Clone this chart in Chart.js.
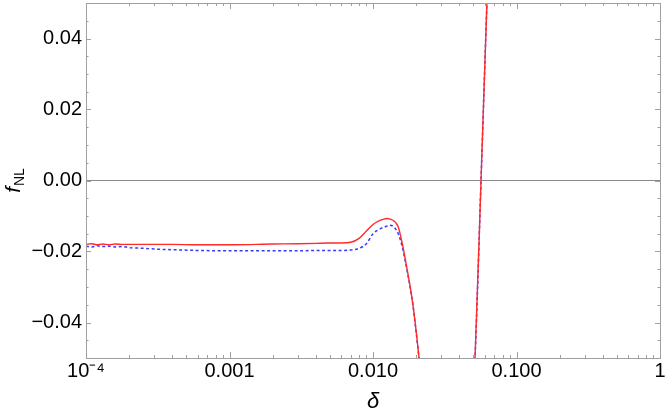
<!DOCTYPE html>
<html>
<head>
<meta charset="utf-8">
<script src="https://cdn.jsdelivr.net/npm/chart.js@4/dist/chart.umd.min.js"></script>
<style>
  html, body { margin: 0; padding: 0; background: #fff; }
  #wrap { width: 667px; height: 415px; }
</style>
</head>
<body>
<div id="wrap"><canvas id="c"></canvas></div>
<script>
// delta values and f_NL for the two curves
const delta = [1e-4, 1.1e-4, 1.2e-4, 1.3e-4, 1.45e-4, 1.6e-4, 1.8e-4, 2e-4, 2.5e-4, 3e-4, 4e-4, 6e-4,
  1e-3, 2e-3, 3e-3, 4e-3, 5e-3, 6e-3, 7e-3, 8e-3, 9e-3, 0.010, 0.011, 0.0126, 0.013, 0.014, 0.015,
  0.016, 0.017, 0.018, 0.019, 0.020, 0.021, 0.022, 0.026, 0.035, 0.045, 0.050, 0.0514, 0.0566, 0.0622, 0.066];
const fRed = [-0.0180, -0.0178, -0.0181, -0.0179, -0.0181, -0.0179, -0.0180, -0.0180, -0.0180, -0.0180, -0.0180, -0.0181,
  -0.0181, -0.0179, -0.0178, -0.0177, -0.0176, -0.0176, -0.0174, -0.0163, -0.0142, -0.0124, -0.0114, -0.0107, -0.0108, -0.0114, -0.0131,
  -0.0178, -0.0234, -0.0290, -0.0351, -0.0426, -0.0505, -0.058, -0.080, -0.120, -0.090, -0.058, -0.050, 0.000, 0.050, 0.080];
const fBlue = [-0.0185, -0.0187, -0.0184, -0.0186, -0.0185, -0.0187, -0.0186, -0.0189, -0.0191, -0.0193, -0.0195, -0.0197,
  -0.0198, -0.0198, -0.0198, -0.0197, -0.0197, -0.0197, -0.0196, -0.0191, -0.0178, -0.0150, -0.0138, -0.0128, -0.0126, -0.0131, -0.0150,
  -0.0187, -0.0239, -0.0293, -0.0353, -0.0428, -0.0507, -0.058, -0.080, -0.120, -0.090, -0.058, -0.050, 0.000, 0.050, 0.080];

const xTicks = [1e-4, 1e-3, 1e-2, 1e-1, 1];
const xTickLabels = ['10\u207B\u2074', '0.001', '0.010', '0.100', '1'];
const yTicks = [-0.04, -0.02, 0, 0.02, 0.04];
const yTickLabels = ['\u22120.04', '\u22120.02', '0.00', '0.02', '0.04'];

const FONT = "'Liberation Sans', Arial, sans-serif";

const frame = {
  id: 'frame',
  afterDraw(chart) {
    const { ctx, chartArea: a, scales: { x, y } } = chart;
    ctx.save();
    ctx.strokeStyle = '#a0a0a0';
    ctx.lineWidth = 1;
    ctx.beginPath();
    // inward ticks, x
    for (let d = -4; d <= 0; d++) {
      for (let k = 1; k <= 9; k++) {
        const v = k * Math.pow(10, d);
        if (v > 1) break;
        const px = Math.round(x.getPixelForValue(v)) + 0.5;
        const len = k === 1 ? 6 : 3;
        ctx.moveTo(px, a.bottom); ctx.lineTo(px, a.bottom - len);
        ctx.moveTo(px, a.top); ctx.lineTo(px, a.top + len);
      }
    }
    // inward ticks, y
    for (let i = -9; i <= 9; i++) {
      const v = i * 0.005;
      const py = Math.round(y.getPixelForValue(v)) + 0.5;
      const len = i % 4 === 0 ? 5 : 2.5;
      ctx.moveTo(a.left, py); ctx.lineTo(a.left + len, py);
      ctx.moveTo(a.right, py); ctx.lineTo(a.right - len, py);
    }
    ctx.stroke();
    ctx.strokeRect(Math.round(a.left) + 0.5, Math.round(a.top) + 0.5,
      Math.round(a.right - a.left), Math.round(a.bottom - a.top));

    // y axis title: f_NL
    ctx.fillStyle = '#000';
    ctx.translate(15, (a.top + a.bottom) / 2);
    ctx.rotate(-Math.PI / 2);
    ctx.font = 'italic 21px ' + FONT;
    const wf = ctx.measureText('f').width;
    ctx.font = '14px ' + FONT;
    const wn = ctx.measureText('NL').width;
    const start = -(wf + wn + 1) / 2;
    ctx.textBaseline = 'alphabetic';
    ctx.font = 'italic 21px ' + FONT;
    ctx.fillText('f', start, 5);
    ctx.font = '14px ' + FONT;
    ctx.fillText('NL', start + wf + 1, 9);
    ctx.restore();
  }
};

new Chart(document.getElementById('c'), {
  type: 'line',
  data: {
    datasets: [
      {
        label: 'red',
        data: delta.map((d, i) => ({ x: d, y: fRed[i] })),
        borderColor: '#ff2a2a',
        borderWidth: 1.4,
        pointRadius: 0,
        cubicInterpolationMode: 'monotone',
        fill: false
      },
      {
        label: 'blue',
        data: delta.map((d, i) => ({ x: d, y: fBlue[i] })),
        borderColor: '#3a3aff',
        borderWidth: 1.5,
        borderDash: [3, 2.5],
        pointRadius: 0,
        cubicInterpolationMode: 'monotone',
        fill: false
      }
    ]
  },
  options: {
    responsive: true,
    maintainAspectRatio: false,
    animation: false,
    layout: { padding: { left: 0, right: 7, top: 3, bottom: 0 } },
    plugins: { legend: { display: false }, tooltip: { enabled: false } },
    scales: {
      x: {
        type: 'logarithmic',
        min: 1e-4,
        max: 1,
        afterBuildTicks: s => { s.ticks = xTicks.map(v => ({ value: v })); },
        afterFit: s => { s.height = 57; s.paddingLeft = 0; s.paddingRight = 0; },
        ticks: {
          autoSkip: false,
          maxRotation: 0,
          padding: 1,
          color: '#000',
          font: { family: FONT, size: 20 },
          callback: (v, i) => xTickLabels[i]
        },
        grid: { display: false, drawTicks: false },
        border: { display: false },
        title: {
          display: true,
          text: 'δ',
          color: '#000',
          font: { family: FONT, size: 22, style: 'italic' },
          padding: { top: 10, bottom: 0 }
        }
      },
      y: {
        min: -0.05,
        max: 0.05,
        afterBuildTicks: s => { s.ticks = yTicks.map(v => ({ value: v })); },
        afterFit: s => { s.width = 86; s.paddingTop = 0; s.paddingBottom = 0; },
        ticks: {
          padding: 4,
          color: '#000',
          font: { family: FONT, size: 20 },
          callback: (v, i) => yTickLabels[i]
        },
        grid: {
          drawTicks: false,
          color: c => (c.tick && c.tick.value === 0 ? '#8a8a8a' : 'rgba(0,0,0,0)'),
          lineWidth: 1
        },
        border: { display: false }
      }
    }
  },
  plugins: [frame]
});
</script>
</body>
</html>
